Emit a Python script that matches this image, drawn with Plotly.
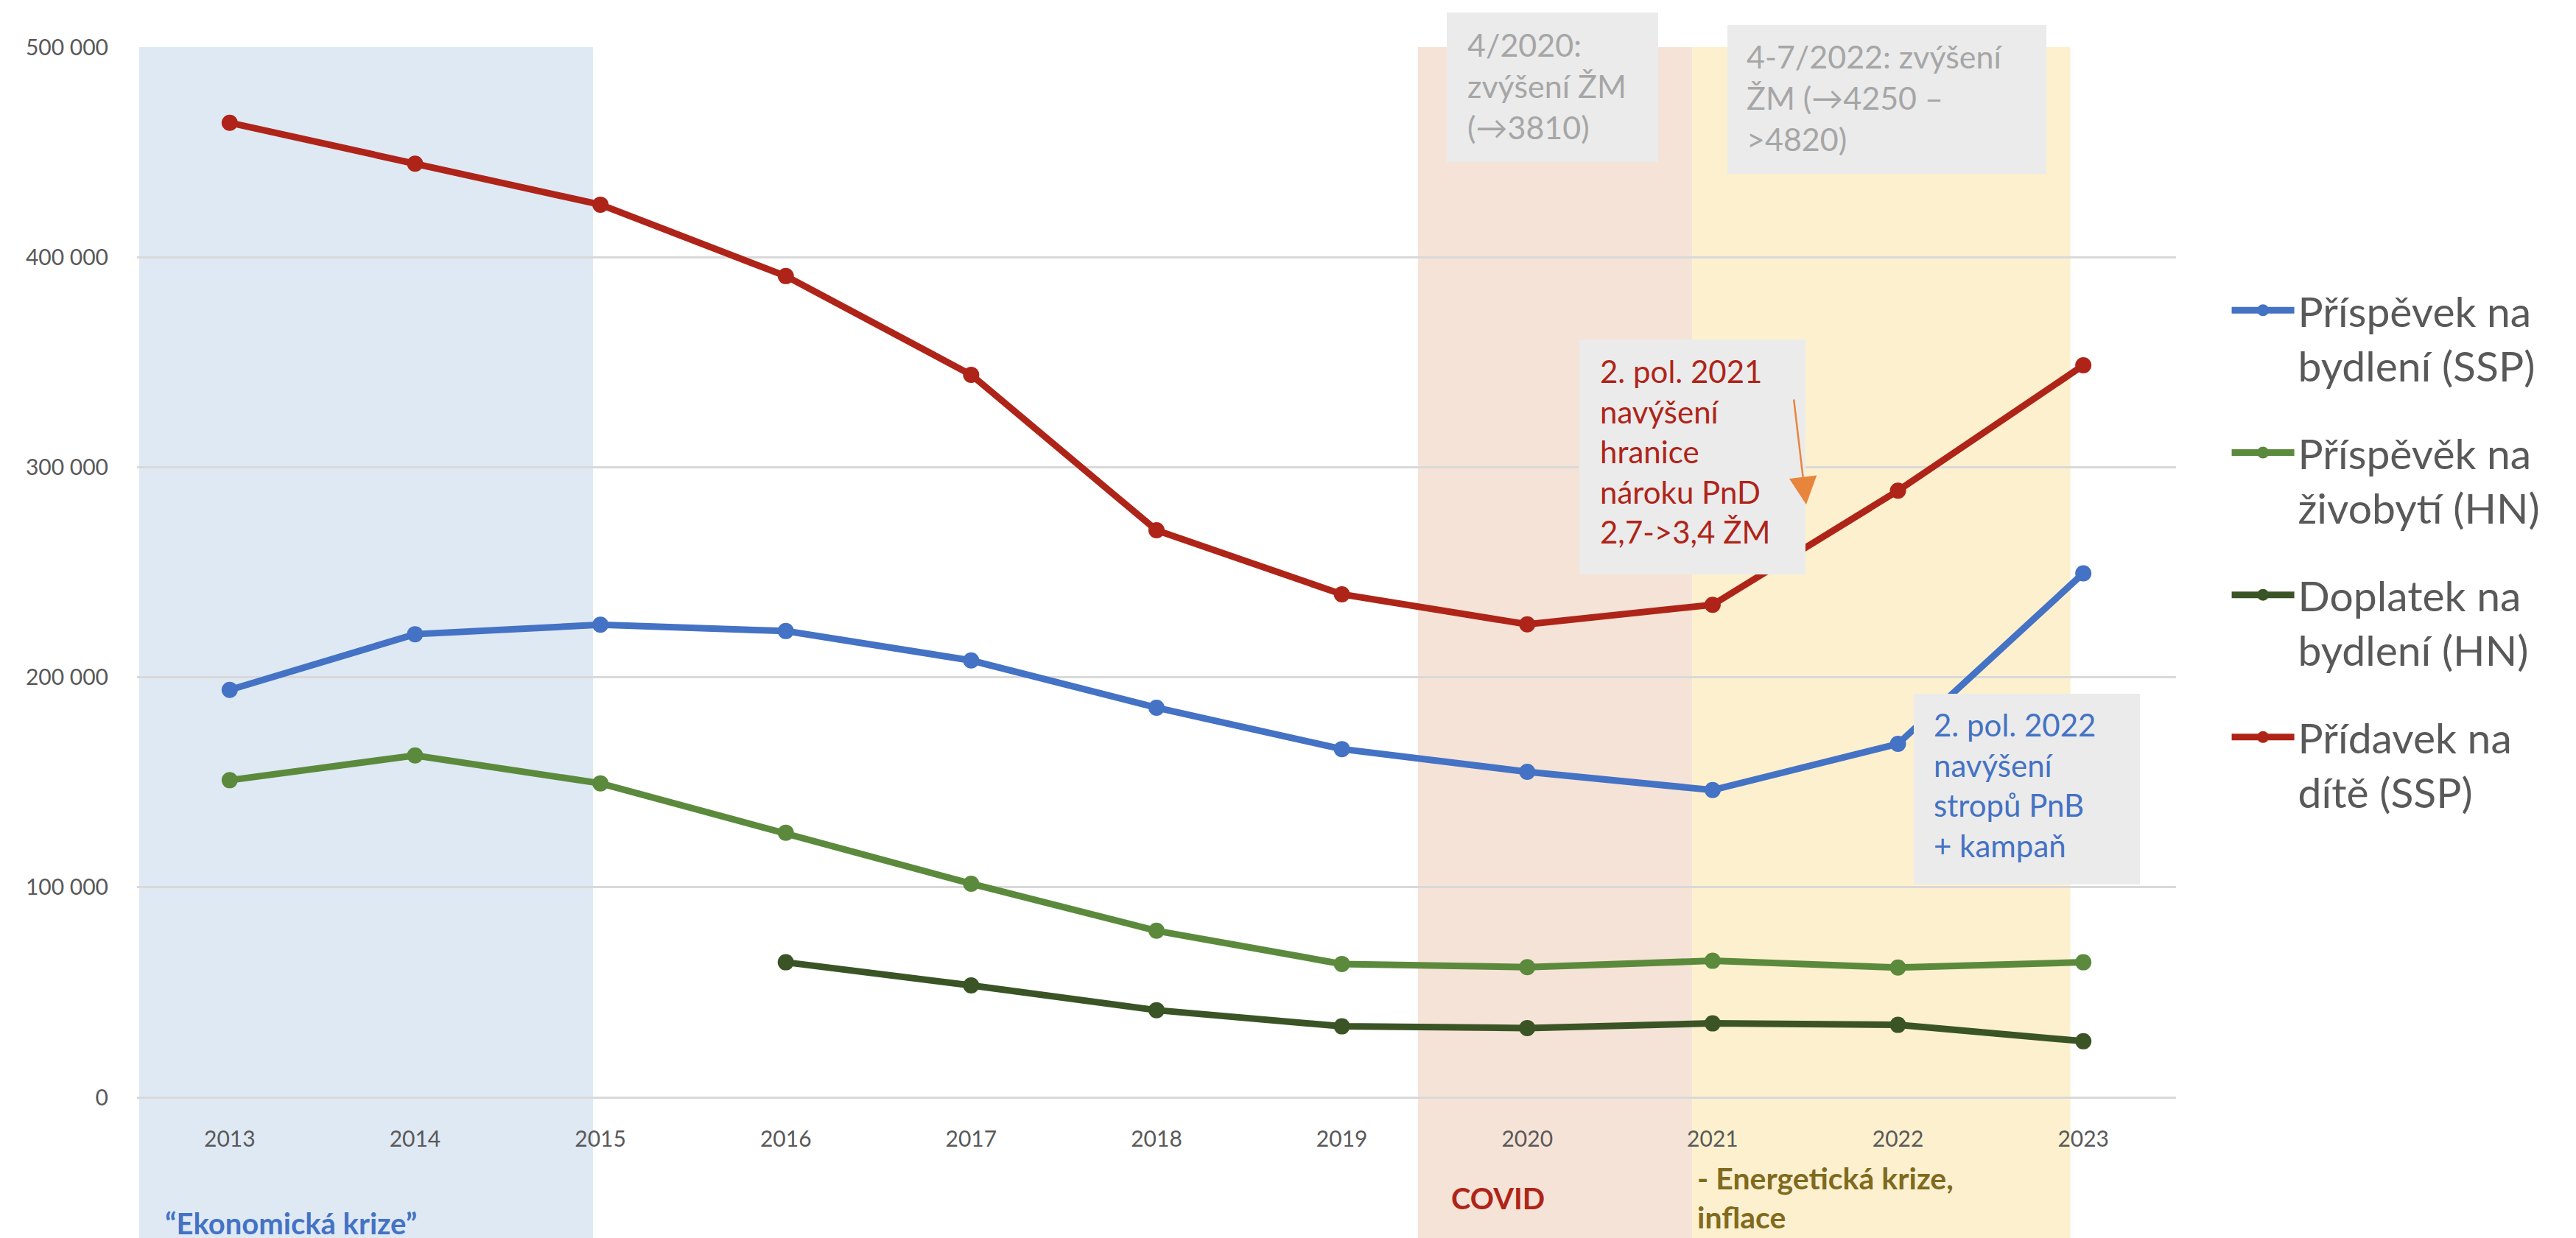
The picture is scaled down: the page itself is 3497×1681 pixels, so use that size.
import plotly.graph_objects as go

# ---------------- data ----------------
years = ["2013", "2014", "2015", "2016", "2017", "2018", "2019", "2020", "2021", "2022", "2023"]

prispevek_bydleni = [194000, 220500, 225000, 222000, 208000, 185500, 165800, 155000, 146300, 168300, 249500]
prispevek_zivobyti = [151000, 162800, 149500, 126000, 101700, 79300, 63500, 62000, 65000, 61800, 64300]
doplatek_bydleni = [None, None, None, 64300, 53300, 41500, 33800, 33000, 35200, 34500, 26700]
pridavek_dite = [464000, 444500, 425000, 391000, 344000, 270000, 239500, 225200, 234500, 288800, 348500]

series_names = [
    "Příspěvek na<br>bydlení (SSP)",
    "Příspěvěk na<br>živobytí (HN)",
    "Doplatek na<br>bydlení (HN)",
    "Přídavek na<br>dítě (SSP)",
]
series_values = [prispevek_bydleni, prispevek_zivobyti, doplatek_bydleni, pridavek_dite]
series_colors = ["#4472C4", "#5B8A3C", "#3A5426", "#AF2418"]

y_tickvals = [0, 100000, 200000, 300000, 400000, 500000]
y_ticktext = ["0", "100 000", "200 000", "300 000", "400 000", "500 000"]

# ---------------- figure geometry (pixels) ----------------
W, H = 3497, 1681
L, R, T, B = 178, 2946, 56, 1482   # plot area edges


def px(x):
    return (x - L) / (R - L)


def py(y):
    return (B - y) / (B - T)


FONT = "Lato, 'Open Sans', sans-serif"
GRAY_TXT = "#595959"

fig = go.Figure()
for name, vals, col in zip(series_names, series_values, series_colors):
    fig.add_trace(go.Scatter(
        x=years, y=vals, name=name, mode="lines+markers",
        line=dict(color=col, width=9),
        marker=dict(color=col, size=22),
        legendgroup=name,
    ))

shapes = []
# background period bands (category-index x, paper y)
bands = [(-0.488, 1.96, "#DFE9F4"), (6.41, 7.89, "#F6E3D7"), (7.89, 9.93, "#FCF0CE")]
for x0, x1, c in bands:
    shapes.append(dict(type="rect", xref="x", yref="paper", x0=x0, x1=x1,
                       y0=py(H + 20), y1=1, fillcolor=c, line=dict(width=0), layer="below"))

# annotation boxes (above traces)
boxes = [(1956, 9, 2243, 212), (2337, 26, 2770, 228), (2136, 453, 2443, 772), (2590, 934, 2897, 1193)]
for x0, y0, x1, y1 in boxes:
    shapes.append(dict(type="rect", xref="paper", yref="paper", x0=px(x0), x1=px(x1),
                       y0=py(y1), y1=py(y0), fillcolor="#EBEBEB", line=dict(width=0), layer="above"))

annotations = []


def note(text, left, top, color, size, bold=False):
    annotations.append(dict(
        text=f"<b>{text}</b>" if bold else text,
        xref="paper", yref="paper", x=px(left), y=py(top),
        xanchor="left", yanchor="top", align="left", showarrow=False,
        font=dict(family=FONT, size=size, color=color), borderpad=0,
    ))


note("4/2020:<br>zvýšení ŽM<br>(→3810)", 1983, 26, "#A6A6A6", 43)
note("4-7/2022: zvýšení<br>ŽM (→4250 –<br>&gt;4820)", 2362, 42, "#A6A6A6", 43)
note("2. pol. 2021<br>navýšení<br>hranice<br>nároku PnD<br>2,7-&gt;3,4 ŽM", 2163, 470, "#AF2418", 42)
note("2. pol. 2022<br>navýšení<br>stropů PnB<br>+ kampaň", 2616, 950, "#4472C4", 42)

note("“Ekonomická krize”", 215, 1628, "#4472C4", 40, bold=True)
note("COVID", 1961, 1594, "#AF2418", 40, bold=True)
note("- Energetická krize,<br>inflace", 2295, 1566, "#7F6A1E", 41, bold=True)

# orange arrow in the 2021 box
annotations.append(dict(
    xref="paper", yref="paper", x=px(2444), y=py(677), ax=2427 - 2444, ay=533 - 677,
    axref="pixel", ayref="pixel", text="", showarrow=True,
    arrowcolor="#E8853D", arrowwidth=2.5, arrowhead=2, arrowsize=3,
))

fig.update_layout(
    width=W, height=H, autosize=False,
    margin=dict(l=L, r=W - R, t=T, b=H - B),
    paper_bgcolor="white", plot_bgcolor="rgba(0,0,0,0)",
    font=dict(family=FONT, color=GRAY_TXT),
    shapes=shapes, annotations=annotations,
    showlegend=True,
    legend=dict(
        x=1.0255, y=0.78, xanchor="left", yanchor="top",
        font=dict(family=FONT, size=57, color=GRAY_TXT),
        itemwidth=85, tracegroupgap=42, valign="top",
        bgcolor="rgba(0,0,0,0)",
    ),
)
fig.update_xaxes(
    type="category", range=[-0.5, 10.5], showgrid=False, showline=False, zeroline=False,
    ticks="outside", ticklen=30, tickcolor="rgba(0,0,0,0)",
    tickfont=dict(family=FONT, size=30, color=GRAY_TXT),
)
fig.update_yaxes(
    range=[0, 500000], tickvals=y_tickvals, ticktext=y_ticktext,
    showgrid=True, gridcolor="#D9D9D9", gridwidth=3,
    zeroline=True, zerolinecolor="#D9D9D9", zerolinewidth=3, showline=False,
    ticks="outside", ticklen=32, tickcolor="rgba(0,0,0,0)",
    tickfont=dict(family=FONT, size=30, color=GRAY_TXT),
)

fig.write_html("out.html")
